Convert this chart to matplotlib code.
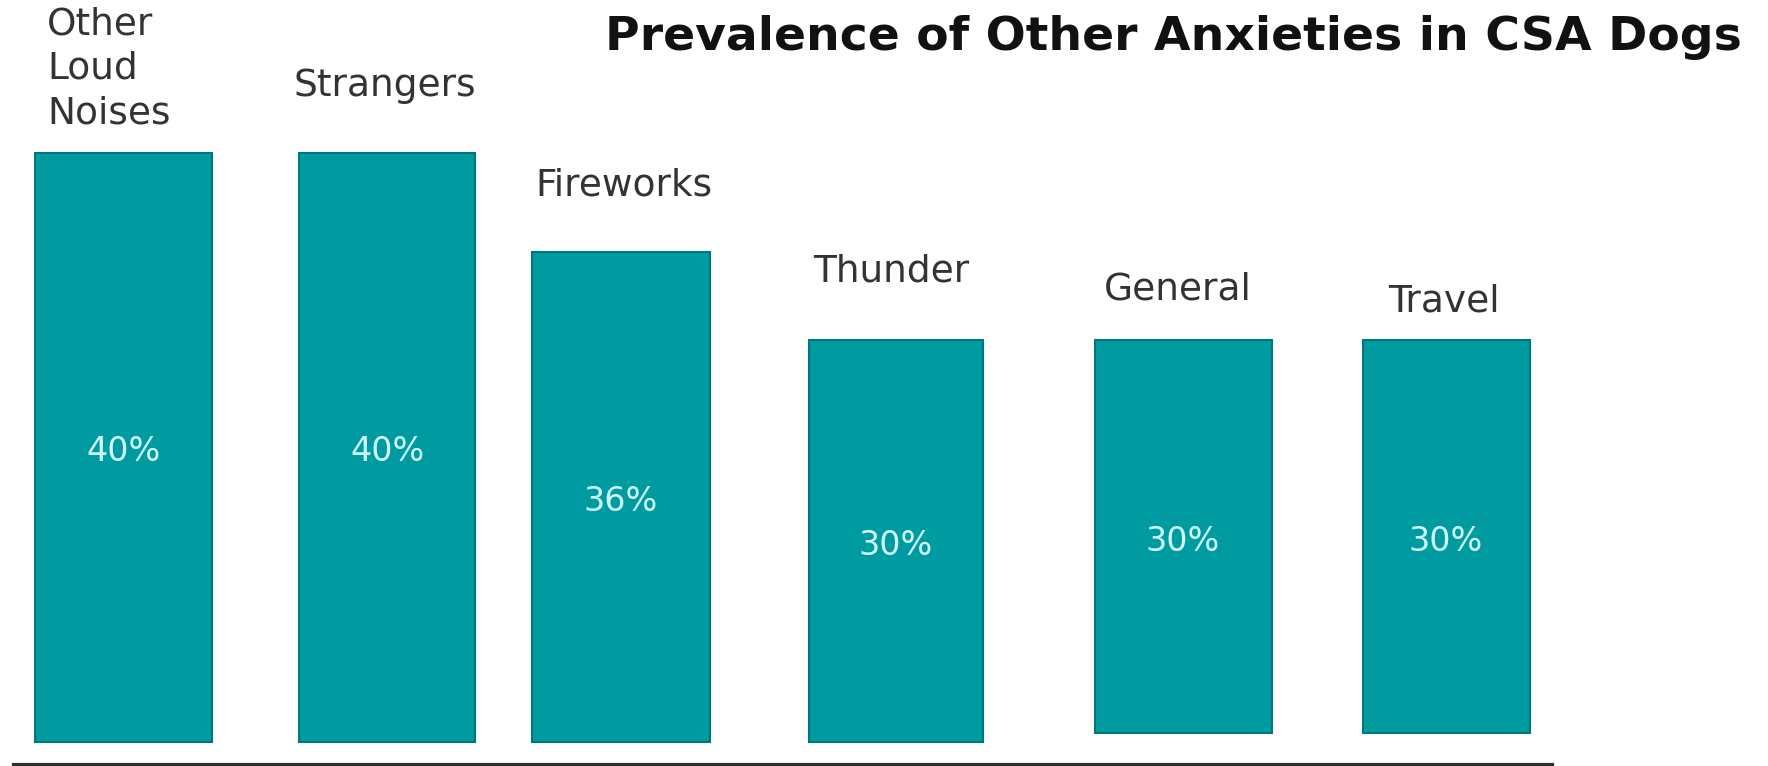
import matplotlib
matplotlib.use("Agg")
import matplotlib.pyplot as plt

# values
categories = ["Other\nLoud\nNoises", "Strangers", "Fireworks", "Thunder", "General", "Travel"]
pct_labels = ["40%", "40%", "36%", "30%", "30%", "30%"]
# bar tops / bottoms as they are drawn in the picture (40% bar = 40 units)
bar_tops = [40, 40, 33.3, 27.3, 27.3, 27.3]
bar_bottoms = [0, 0, 0, 0, 0.6, 0.6]

# layout, in pixels of the 1768x766 picture
W, H = 1768, 766
bar_x = [123, 387, 621, 896, 1183, 1446]
bar_w = [177, 176, 178, 174, 177, 167]
label_x = [47, 293, 535, 813, 1104, 1388]
label_base = [123, 96, 195, 282, 300, 312]   # baseline of the last line
px_per_unit = 589 / 40.0
base_px = 742   # pixel row (from top) where y = 0

teal = "#009ba0"

fig = plt.figure(figsize=(W / 100, H / 100), dpi=100)
ax = fig.add_axes([0, 0, 1, 1])
ax.set_xlim(0, W)
ax.set_ylim((base_px - H) / px_per_unit, base_px / px_per_unit)
ax.axis("off")

heights = [t - b for t, b in zip(bar_tops, bar_bottoms)]
bars = ax.bar(bar_x, heights, width=bar_w, bottom=bar_bottoms,
              color=teal, edgecolor="#00777a", linewidth=1.5)

# percentage in the middle of each bar
for rect, txt in zip(bars, pct_labels):
    ax.text(rect.get_x() + rect.get_width() / 2, rect.get_y() + rect.get_height() / 2 - 0.3,
            txt, ha="center", va="center", fontsize=24, color="#cffcff")

# category names above the bars
for name, x, yb in zip(categories, label_x, label_base):
    fig.text(x / W, 1 - yb / H, name, ha="left", va="baseline",
             fontsize=27, color="#333333", linespacing=1.3)

fig.text(1173 / W, 1 - 50 / H, "Prevalence of Other Anxieties in CSA Dogs",
         ha="center", va="baseline", fontsize=34, fontweight="bold", color="#111111")

# baseline rule under the bars
ax.axhline((base_px - 764.5) / px_per_unit, xmin=14 / W, xmax=1552 / W, color="#2e2e2e", lw=3)

fig.savefig("out.png", dpi=100, facecolor="white")
